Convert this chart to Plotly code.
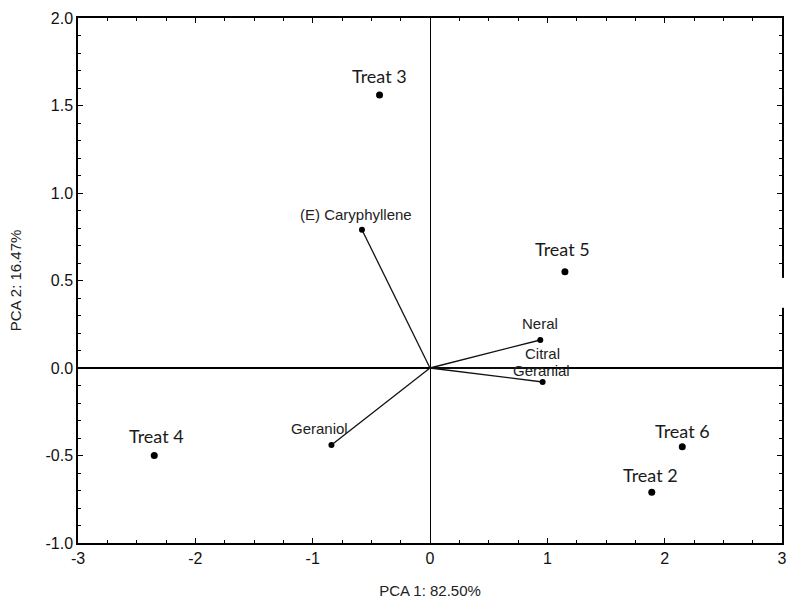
import plotly.graph_objects as go

# Observations (scores)
treat_names = ["Treat 2", "Treat 3", "Treat 4", "Treat 5", "Treat 6"]
treat_x = [1.89, -0.43, -2.35, 1.15, 2.15]
treat_y = [-0.71, 1.56, -0.50, 0.55, -0.45]

# Variables (loadings)
var_names = ["(E) Caryphyllene", "Neral", "Citral", "Geranial", "Geraniol"]
var_x = [-0.58, 0.94, 0.96, 0.96, -0.84]
var_y = [0.79, 0.16, 0.0, -0.08, -0.44]
var_marker = [True, True, False, True, True]

x_ticks = [-3, -2, -1, 0, 1, 2, 3]
y_ticks = [-1.0, -0.5, 0.0, 0.5, 1.0, 1.5, 2.0]

# label offsets (pixels) – styling only
treat_shift = {"Treat 2": (-1, 17), "Treat 3": (0, 19), "Treat 4": (2, 20),
               "Treat 5": (-2, 23), "Treat 6": (0, 16)}
var_shift = {"(E) Caryphyllene": (-6, 15), "Neral": (0, 17), "Citral": (0, 15),
             "Geranial": (-1, 12), "Geraniol": (-12, 17)}

fig = go.Figure()

# vectors from origin
for name, vx, vy in zip(var_names, var_x, var_y):
    fig.add_trace(go.Scatter(x=[0, vx], y=[0, vy], mode="lines",
                             line=dict(color="#111", width=1.3),
                             showlegend=False, hoverinfo="skip"))

fig.add_trace(go.Scatter(
    x=[x for x, m in zip(var_x, var_marker) if m],
    y=[y for y, m in zip(var_y, var_marker) if m],
    mode="markers", marker=dict(color="black", size=6),
    showlegend=False))

fig.add_trace(go.Scatter(x=treat_x, y=treat_y, mode="markers",
                         marker=dict(color="black", size=7), showlegend=False))

annotations = []
for name, tx, ty in zip(treat_names, treat_x, treat_y):
    dx, dy = treat_shift[name]
    annotations.append(dict(x=tx, y=ty, text=name, showarrow=False,
                            xshift=dx, yshift=dy,
                            font=dict(family="Lato, Open Sans, sans-serif", size=18, color="#1a1a1a")))
for name, vx, vy in zip(var_names, var_x, var_y):
    dx, dy = var_shift[name]
    annotations.append(dict(x=vx, y=vy, text=name, showarrow=False,
                            xshift=dx, yshift=dy,
                            font=dict(family="Liberation Sans, Arial, sans-serif", size=15, color="#222")))

fig.update_layout(
    width=789, height=599,
    margin=dict(l=78, r=7, t=18, b=56),
    plot_bgcolor="white", paper_bgcolor="white",
    annotations=annotations,
    font=dict(family="Liberation Sans, Arial, sans-serif", color="#111"),
    shapes=[dict(type="rect", xref="paper", yref="paper",
                 x0=0.985, x1=1.02, y0=0.448, y1=0.505,
                 fillcolor="white", line=dict(width=0), layer="above")],
)

fig.update_xaxes(
    range=[-3, 3], tickvals=x_ticks, ticktext=[str(v) for v in x_ticks],
    showline=True, mirror="allticks", linecolor="black", linewidth=1.5,
    ticks="inside", ticklen=5, tickcolor="black", tickwidth=1.2,
    minor=dict(dtick=0.25, ticks="inside", ticklen=3, tickcolor="black"),
    showgrid=False, zeroline=True, zerolinecolor="black", zerolinewidth=1.2,
    tickfont=dict(size=16, color="#111"), automargin=False,
    title=dict(text="PCA 1: 82.50%", font=dict(size=15, color="#222"), standoff=20),
)
fig.update_yaxes(
    range=[-1, 2], tickvals=y_ticks, ticktext=[f"{v:.1f}" for v in y_ticks],
    showline=True, mirror="allticks", linecolor="black", linewidth=1.5,
    ticks="inside", ticklen=5, tickcolor="black", tickwidth=1.2,
    minor=dict(dtick=0.1, ticks="inside", ticklen=3, tickcolor="black"),
    showgrid=False, zeroline=True, zerolinecolor="black", zerolinewidth=2.2,
    tickfont=dict(size=16, color="#111"), automargin=False,
    title=dict(text="PCA 2: 16.47%", font=dict(size=15, color="#222"), standoff=20),
)

# remove the browser's default body margin so the figure fills the window
fig.write_html("out.html", config={"displayModeBar": False},
               post_script="document.body.style.margin='0';document.body.style.overflow='hidden';")
